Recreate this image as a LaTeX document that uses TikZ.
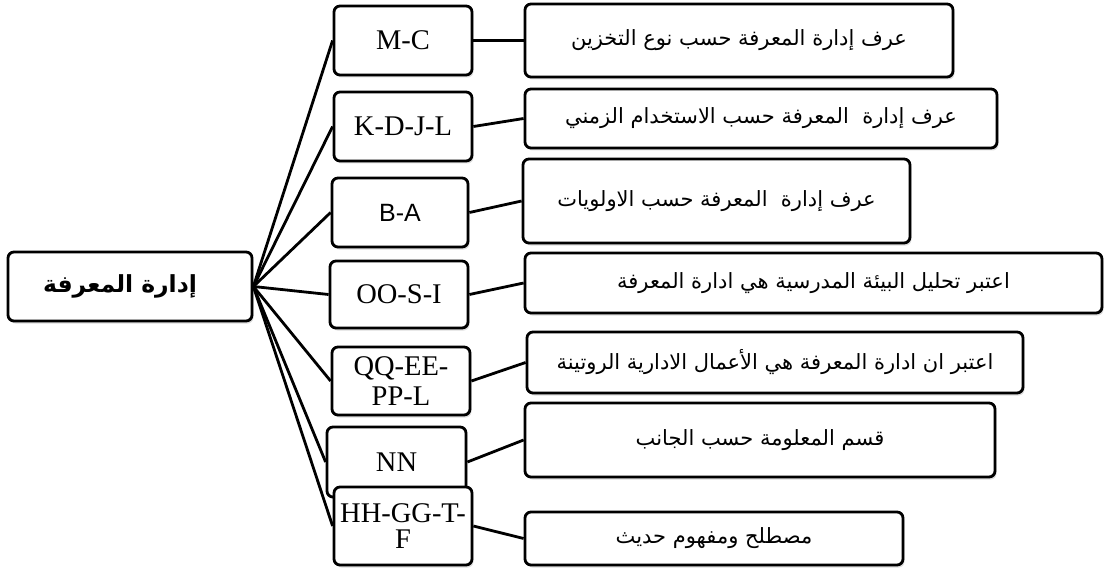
\documentclass[tikz,border=0pt]{standalone}
\usepackage{fontspec}
\setmainfont{Liberation Serif}
\newfontfamily\arabicfont[Script=Arabic]{DejaVu Sans}
\newfontfamily\latinsans{Liberation Sans}
\TeXXeTstate=1
\usetikzlibrary{shadows}
\tikzset{
  box/.style={draw, line width=2.8pt, rounded corners=6pt, fill=white,
    drop shadow={opacity=0.28, shadow xshift=1.5pt, shadow yshift=-2.5pt},
    inner sep=0pt, align=center},
  midbox/.style={box, font=\fontsize{28.5}{30}\selectfont},
  rightbox/.style={box, font=\arabicfont\fontsize{21}{24}\selectfont},
  link/.style={line width=2.8pt},
}
\begin{document}
\begin{tikzpicture}[x=1pt,y=-1pt]
\useasboundingbox (0,0) rectangle (1107,572);
% root
\node[box, minimum width=244pt, minimum height=69pt, font=\arabicfont\bfseries\fontsize{23.5}{26}\selectfont] (root) at (130,286.5) {\beginR إدارة المعرفة\endR\hspace*{20pt}};
% middle boxes
\node[midbox, minimum width=138pt, minimum height=69pt] (mc) at (403,40.5) {M-C};
\node[midbox, minimum width=138pt, minimum height=69pt] (kd) at (403,126.5) {K-D-J-L};
\node[midbox, minimum width=136pt, minimum height=69pt, font=\latinsans\fontsize{25}{28}\selectfont] (ba) at (400,212.5) {B-A};
\node[midbox, minimum width=138pt, minimum height=67pt] (oo) at (399,294.5) {OO-S-I};
\node[midbox, minimum width=138pt, minimum height=68pt, font=\fontsize{28.5}{30}\selectfont] (qq) at (401,381) {QQ-EE-\\PP-L};
\node[midbox, minimum width=139pt, minimum height=70pt] (nn) at (396.5,462) {NN};
\node[midbox, minimum width=138pt, minimum height=78pt, font=\fontsize{28.5}{26}\selectfont] (hh) at (403,526) {HH-GG-T-\\F};
% right boxes
\node[rightbox, minimum width=428pt, minimum height=73pt] (r1) at (739,40.5) {\beginR عرف إدارة المعرفة حسب نوع التخزين\endR};
\node[rightbox, minimum width=472pt, minimum height=59pt] (r2) at (761,118.5) {\beginR عرف إدارة\ \ المعرفة حسب الاستخدام الزمني\endR};
\node[rightbox, minimum width=387pt, minimum height=84pt] (r3) at (716.5,201) {\beginR عرف إدارة\ \ المعرفة حسب الاولويات\endR};
\node[rightbox, minimum width=577pt, minimum height=60pt] (r4) at (813.5,283) {\beginR اعتبر تحليل البيئة المدرسية هي ادارة المعرفة\endR};
\node[rightbox, minimum width=496pt, minimum height=61pt] (r5) at (775,362.5) {\beginR اعتبر ان ادارة المعرفة هي الأعمال الادارية الروتينة\endR};
\node[rightbox, minimum width=470pt, minimum height=74pt] (r6) at (760,440) {\beginR قسم المعلومة حسب الجانب\endR};
\node[rightbox, minimum width=378pt, minimum height=53pt] (r7) at (714,538.5) {\beginR مصطلح ومفهوم حديث\endR};
% connectors
\foreach \m in {mc,kd,ba,oo,qq,nn,hh}
  \draw[link] (root.east) -- (\m.west);
\draw[link] (mc.east) -- (r1.west);
\draw[link] (kd.east) -- (r2.west);
\draw[link] (ba.east) -- (r3.west);
\draw[link] (oo.east) -- (r4.west);
\draw[link] (qq.east) -- (r5.west);
\draw[link] (nn.east) -- (r6.west);
\draw[link] (hh.east) -- (r7.west);
\end{tikzpicture}
\end{document}
